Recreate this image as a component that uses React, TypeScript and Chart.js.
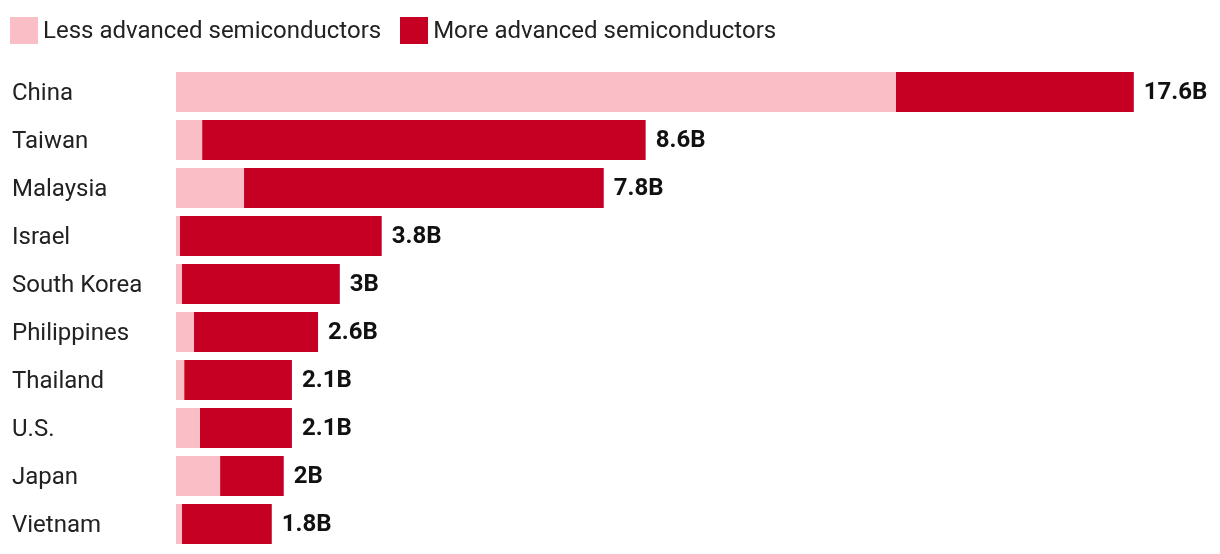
import React, { useEffect, useRef } from "react";
import { Chart, registerables } from "chart.js";

Chart.register(...registerables);

const categories = ["China", "Taiwan", "Malaysia", "Israel", "South Korea", "Philippines", "Thailand", "U.S.", "Japan", "Vietnam"];
const lessAdvanced = [13.23, 0.48, 1.25, 0.07, 0.11, 0.33, 0.15, 0.44, 0.81, 0.11];
const moreAdvanced = [4.37, 8.15, 6.61, 3.71, 2.9, 2.28, 1.98, 1.69, 1.17, 1.65];
const totalLabels = ["17.6B", "8.6B", "7.8B", "3.8B", "3B", "2.6B", "2.1B", "2.1B", "2B", "1.8B"];
const seriesNames = ["Less advanced semiconductors", "More advanced semiconductors"];
const seriesColors = ["#F9BEC6", "#C50022"];

const FONT = "Roboto, 'Noto Sans', sans-serif";

const totalsPlugin = {
  id: "totals",
  afterDatasetsDraw(chart: any) {
    const ctx = chart.ctx;
    const meta = chart.getDatasetMeta(chart.data.datasets.length - 1);
    ctx.save();
    ctx.font = `bold 24px ${FONT}`;
    ctx.fillStyle = "#111111";
    ctx.textBaseline = "middle";
    ctx.textAlign = "left";
    meta.data.forEach((el: any, i: number) => {
      ctx.fillText(totalLabels[i], el.x + 10, el.y + 1);
    });
    ctx.restore();
  },
};

export default function App() {
  const ref = useRef<HTMLCanvasElement | null>(null);

  useEffect(() => {
    document.body.style.margin = "0";
    if (!ref.current) return;
    const chart = new Chart(ref.current, {
      type: "bar",
      data: {
        labels: categories,
        datasets: [
          {
            label: seriesNames[0],
            data: lessAdvanced,
            backgroundColor: seriesColors[0],
            borderWidth: 0,
            categoryPercentage: 1,
            barPercentage: 40 / 48,
          },
          {
            label: seriesNames[1],
            data: moreAdvanced,
            backgroundColor: seriesColors[1],
            borderWidth: 0,
            categoryPercentage: 1,
            barPercentage: 40 / 48,
          },
        ],
      },
      options: {
        indexAxis: "y",
        animation: false,
        responsive: true,
        maintainAspectRatio: false,
        layout: { padding: { left: 12, right: 10, top: 68, bottom: 6 } },
        plugins: {
          legend: { display: false },
          tooltip: { enabled: false },
        },
        scales: {
          x: {
            stacked: true,
            min: 0,
            max: 19,
            display: false,
          },
          y: {
            stacked: true,
            grid: { display: false },
            border: { display: false },
            ticks: {
              crossAlign: "far",
              padding: 0,
              labelOffset: 2,
              color: "#222222",
              font: { family: FONT, size: 24 },
            },
            afterFit(scale: any) {
              scale.width = 164;
              scale.paddingTop = 0;
              scale.paddingBottom = 0;
            },
          },
        },
      },
      plugins: [totalsPlugin],
    } as any);
    return () => chart.destroy();
  }, []);

  return (
    <div style={{ position: "relative", width: 1220, height: 554, overflow: "hidden", fontFamily: FONT }}>
      <div style={{ position: "absolute", top: 17, left: 10, display: "flex", alignItems: "center" }}>
        {seriesNames.map((name, i) => (
          <div key={name} style={{ display: "flex", alignItems: "center", marginRight: 19 }}>
            <div style={{ width: 28, height: 27, background: seriesColors[i], marginRight: 5 }} />
            <span style={{ fontSize: 24, color: "#222222", lineHeight: "27px" }}>{name}</span>
          </div>
        ))}
      </div>
      <canvas ref={ref} />
    </div>
  );
}
